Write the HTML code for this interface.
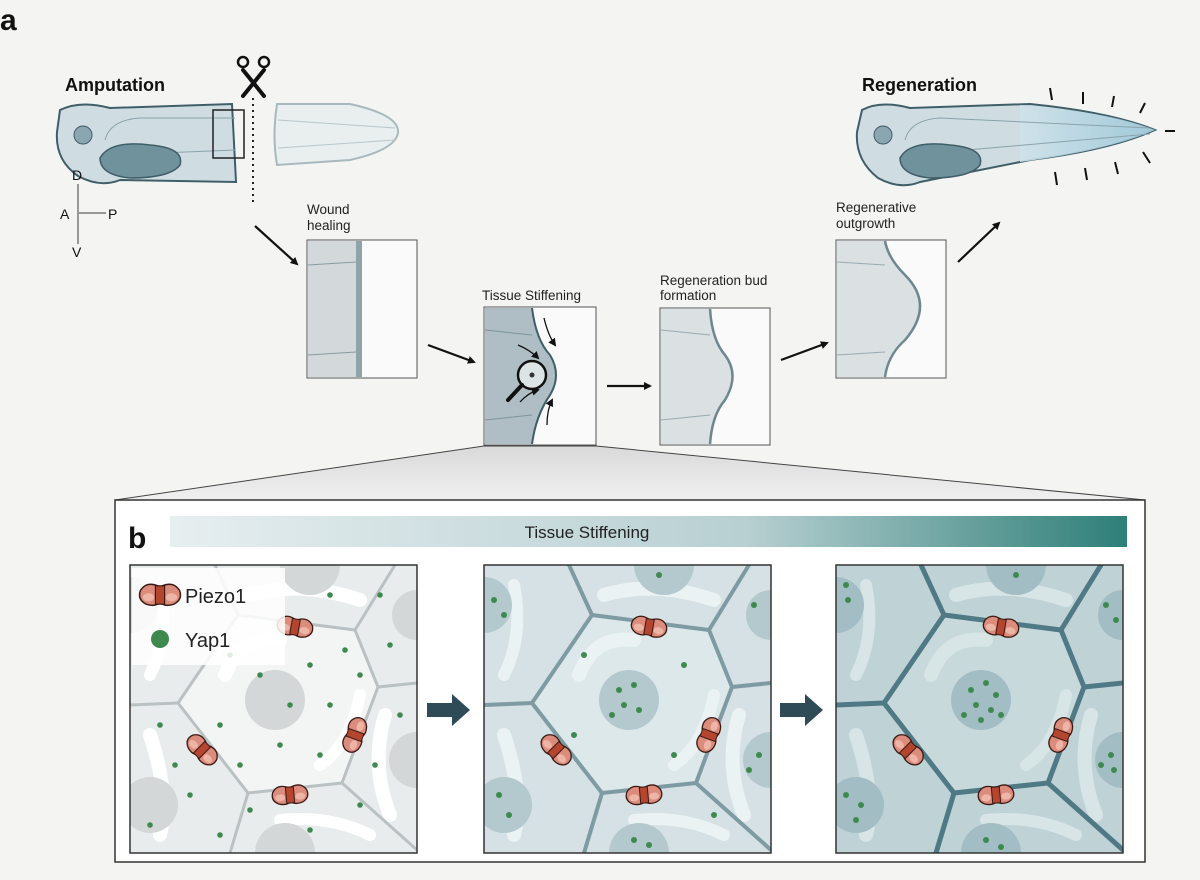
<!DOCTYPE html>
<html><head><meta charset="utf-8"><style>
body{margin:0;background:#f4f4f3;}
svg{display:block;font-family:"Liberation Sans",sans-serif;}
</style></head><body>
<svg width="1200" height="880" viewBox="0 0 1200 880" xmlns="http://www.w3.org/2000/svg">
<defs>
<clipPath id="pc"><rect x="0" y="0" width="287" height="288"/></clipPath>
<marker id="ah" markerWidth="8" markerHeight="8" refX="6" refY="4" orient="auto" markerUnits="userSpaceOnUse" viewBox="0 0 8 8"><path d="M0,0 L8,4 L0,8 z" fill="#111"/></marker>
<linearGradient id="bar" x1="0" x2="1"><stop offset="0" stop-color="#e6eef0"/><stop offset="0.6" stop-color="#b8d0d2"/><stop offset="1" stop-color="#2e7f78"/></linearGradient>
<linearGradient id="trap" x1="0" y1="0" x2="0" y2="1"><stop offset="0" stop-color="#d9d9d9"/><stop offset="1" stop-color="#f0f0f0"/></linearGradient>
<linearGradient id="reg" x1="0" x2="1"><stop offset="0" stop-color="#cfe2ea"/><stop offset="1" stop-color="#9cc7d8"/></linearGradient>
<g id="piezo">
<path d="M-2,-8 Q-12,-12 -17,-4 Q-20,4 -12,8 Q-6,10 -2,8 Z" fill="#dc8c7c" stroke="#3a1a14" stroke-width="1.3"/>
<path d="M2,-8 Q12,-12 17,-4 Q20,4 12,8 Q6,10 2,8 Z" fill="#dc8c7c" stroke="#3a1a14" stroke-width="1.3"/>
<rect x="-4" y="-8" width="8" height="16" fill="#b4452f" stroke="#3a1a14" stroke-width="1"/>
<ellipse cx="-10" cy="2" rx="5" ry="3.5" fill="#eeb5a6"/><ellipse cx="10" cy="2" rx="5" ry="3.5" fill="#eeb5a6"/>
</g>
<g id="cells">
<rect x="0" y="0" width="287" height="288" fill="var(--bg)"/>
<path d="M108,50 L225,65 L248,122 L212,218 L118,228 L48,138 Z" fill="var(--in)"/>
<path d="M95,110 Q110,70 150,75" stroke="var(--hi)" stroke-width="14" fill="none" stroke-linecap="round"/>
<path d="M230,130 Q220,180 190,200" stroke="var(--hi)" stroke-width="12" fill="none" stroke-linecap="round"/>
<path d="M120,30 Q170,15 230,35" stroke="var(--hi)" stroke-width="14" fill="none" stroke-linecap="round"/>
<path d="M20,170 Q40,230 30,270" stroke="var(--hi)" stroke-width="14" fill="none" stroke-linecap="round"/>
<path d="M255,150 Q240,200 260,250" stroke="var(--hi)" stroke-width="14" fill="none" stroke-linecap="round"/>
<path d="M150,255 Q200,250 240,270" stroke="var(--hi)" stroke-width="12" fill="none" stroke-linecap="round"/>
<path d="M30,20 Q40,70 20,110" stroke="var(--hi)" stroke-width="12" fill="none" stroke-linecap="round"/>
<g fill="none" stroke="var(--ln)" stroke-linejoin="round" stroke-linecap="round">
<path d="M108,50 L225,65 L248,122 L212,218 L118,228 L48,138 Z" stroke-width="var(--w)"/>
<path d="M108,50 L85,0 M225,65 L265,0 M248,122 L287,118 M212,218 L287,285 M118,228 L100,288 M48,138 L0,140" stroke-width="var(--w)"/>
</g>
<circle cx="145" cy="135" r="30" fill="var(--nu)"/>
<circle cx="20" cy="240" r="28" fill="var(--nu)"/>
<circle cx="287" cy="195" r="28" fill="var(--nu)"/>
<circle cx="155" cy="288" r="30" fill="var(--nu)"/>
<circle cx="180" cy="0" r="30" fill="var(--nu)"/>
<circle cx="0" cy="40" r="28" fill="var(--nu)"/>
<circle cx="287" cy="50" r="25" fill="var(--nu)"/>
</g>
<g id="pz4">
<use href="#piezo" transform="translate(165,62) rotate(10)"/>
<use href="#piezo" transform="translate(225,170) rotate(-70)"/>
<use href="#piezo" transform="translate(160,230) rotate(-5)"/>
<use href="#piezo" transform="translate(72,185) rotate(45)"/>
</g>
</defs>
<text x="0" y="30" font-size="30" font-weight="bold" fill="#111">a</text>
<text x="65" y="91" font-size="18" font-weight="bold" fill="#111">Amputation</text>
<text x="862" y="91" font-size="18" font-weight="bold" fill="#111">Regeneration</text>
<!-- left tadpole -->
<path d="M60,110 Q80,100 110,108 L232,104 L236,182 L120,180 Q100,188 78,176 Q55,160 57,132 Z" fill="#cfdde2" stroke="#3f5e68" stroke-width="2"/>
<path d="M105,140 Q110,120 140,118 L235,118 M110,155 L235,150" stroke="#8aa3ab" fill="none"/>
<path d="M100,158 Q110,140 150,145 Q185,148 180,165 Q170,178 130,178 Q100,175 100,158 Z" fill="#6f929c" stroke="#3f5e68" stroke-width="1.5"/>
<circle cx="83" cy="135" r="9" fill="#8aa7b0" stroke="#3f5e68"/>
<rect x="213" y="110" width="31" height="48" fill="none" stroke="#222" stroke-width="1.5"/>
<!-- cut tail -->
<path d="M277,104 L350,104 Q400,115 398,133 Q395,150 350,160 L277,165 Q272,135 277,104 Z" fill="#e9eeef" stroke="#a8b8bc" stroke-width="2"/>
<path d="M278,120 L395,128 M278,148 L395,140" stroke="#b9c6c9" fill="none"/>
<!-- scissors -->
<g stroke="#111" stroke-width="4" stroke-linecap="round"><line x1="243" y1="70" x2="264" y2="96"/><line x1="264" y1="70" x2="243" y2="96"/></g>
<circle cx="243" cy="62" r="5" fill="none" stroke="#111" stroke-width="2.5"/><circle cx="264" cy="62" r="5" fill="none" stroke="#111" stroke-width="2.5"/>
<line x1="253" y1="98" x2="253" y2="202" stroke="#222" stroke-width="2" stroke-dasharray="2,4"/>
<!-- compass -->
<g stroke="#999" stroke-width="2"><line x1="78" y1="184" x2="78" y2="244"/><line x1="78" y1="213" x2="106" y2="213"/></g>
<text x="72" y="180" font-size="14" fill="#111">D</text><text x="60" y="219" font-size="14" fill="#111">A</text>
<text x="108" y="219" font-size="14" fill="#111">P</text><text x="72" y="257" font-size="14" fill="#111">V</text>
<!-- arrows -->
<g stroke="#111" stroke-width="2.2" marker-end="url(#ah)">
<line x1="255" y1="226" x2="297" y2="264"/><line x1="428" y1="345" x2="474" y2="362"/>
<line x1="607" y1="386" x2="650" y2="386"/><line x1="781" y1="360" x2="827" y2="343"/>
<line x1="958" y1="262" x2="999" y2="223"/>
</g>
<!-- labels -->
<g font-size="13.5" fill="#222">
<text x="307" y="214">Wound</text><text x="307" y="230">healing</text>
<text x="482" y="300">Tissue Stiffening</text>
<text x="660" y="285">Regeneration bud</text><text x="660" y="300">formation</text>
<text x="836" y="212">Regenerative</text><text x="836" y="228">outgrowth</text>
</g>
<!-- boxes -->
<g>
<rect x="307" y="240" width="110" height="138" fill="#fafafa" stroke="#555"/>
<rect x="308" y="241" width="48" height="136" fill="#d3d9db"/>
<path d="M356,241 L362,241 L362,377 L356,377 Z" fill="#8fa3aa"/>
<path d="M308,265 L356,262 M308,355 L356,352" stroke="#8a9ba1"/>

<rect x="484" y="307" width="112" height="138" fill="#fafafa" stroke="#555"/>
<path d="M485,308 L532,308 Q536,340 550,355 Q562,375 550,395 Q536,415 532,444 L485,444 Z" fill="#aebec4"/>
<path d="M485,330 L532,335 M485,420 L532,415" stroke="#7f959c"/>
<path d="M532,308 Q536,340 550,355 Q562,375 550,395 Q536,415 532,444" fill="none" stroke="#3f5e68" stroke-width="2"/>
<g stroke="#111" stroke-width="1.3" fill="none" marker-end="url(#ah)">
<path d="M544,318 Q548,335 555,345"/><path d="M518,345 Q530,350 538,358"/><path d="M520,402 Q528,393 538,390"/><path d="M547,425 Q547,410 552,400"/>
</g>
<circle cx="532" cy="375" r="14" fill="#dde4e6" stroke="#111" stroke-width="2.5"/>
<circle cx="532" cy="375" r="2.5" fill="#333"/>
<line x1="522" y1="385" x2="508" y2="400" stroke="#111" stroke-width="4" stroke-linecap="round"/>

<rect x="660" y="308" width="110" height="137" fill="#fafafa" stroke="#555"/>
<path d="M661,309 L710,309 Q712,340 725,355 Q740,375 725,400 Q712,415 710,444 L661,444 Z" fill="#dbe0e2"/>
<path d="M661,330 L710,335 M661,420 L710,415" stroke="#9aaab0"/>
<path d="M710,309 Q712,340 725,355 Q740,375 725,400 Q712,415 710,444" fill="none" stroke="#6f8790" stroke-width="2.5"/>

<rect x="836" y="240" width="110" height="138" fill="#fafafa" stroke="#555"/>
<path d="M837,241 L885,241 Q888,258 905,275 Q935,305 905,340 Q888,355 885,377 L837,377 Z" fill="#dbe0e2"/>
<path d="M837,262 L885,265 M837,355 L885,352" stroke="#9aaab0"/>
<path d="M885,241 Q888,258 905,275 Q935,305 905,340 Q888,355 885,377" fill="none" stroke="#6f8790" stroke-width="2.5"/>
</g>
<!-- right tadpole -->
<path d="M862,110 Q880,100 910,108 L1030,104 Q1110,112 1155,130 Q1110,150 1030,160 L920,182 Q900,190 878,178 Q855,160 857,132 Z" fill="#cfdde2" stroke="#3f5e68" stroke-width="2"/>
<path d="M1020,105 Q1110,112 1155,130 Q1110,150 1020,162 Z" fill="url(#reg)" opacity="0.9"/>
<path d="M905,140 Q910,120 940,118 L1150,128 M910,155 L1150,134" stroke="#8aa3ab" fill="none"/>
<path d="M900,158 Q910,140 950,145 Q985,148 980,165 Q970,178 930,178 Q900,175 900,158 Z" fill="#6f929c" stroke="#3f5e68" stroke-width="1.5"/>
<circle cx="883" cy="135" r="9" fill="#8aa7b0" stroke="#3f5e68"/>
<g stroke="#111" stroke-width="2">
<line x1="1050" y1="88" x2="1052" y2="100"/><line x1="1083" y1="92" x2="1083" y2="104"/><line x1="1114" y1="96" x2="1112" y2="107"/><line x1="1145" y1="103" x2="1140" y2="113"/>
<line x1="1165" y1="131" x2="1175" y2="131"/>
<line x1="1055" y1="172" x2="1057" y2="185"/><line x1="1085" y1="168" x2="1087" y2="180"/><line x1="1115" y1="162" x2="1118" y2="174"/><line x1="1143" y1="152" x2="1150" y2="163"/>
</g>
<!-- trapezoid -->
<path d="M484,446 L596,446 L1145,500 L115,500 Z" fill="url(#trap)" stroke="#444" stroke-width="1"/>
<!-- panel b -->
<rect x="115" y="500" width="1030" height="362" fill="#fff" stroke="#333" stroke-width="1.5"/>
<text x="128" y="548" font-size="30" font-weight="bold" fill="#111">b</text>
<rect x="170" y="516" width="957" height="31" fill="url(#bar)"/>
<text x="587" y="538" font-size="17" fill="#222" text-anchor="middle">Tissue Stiffening</text>

<g transform="translate(130,565)" style="--bg:#e9ecec;--ln:#b9c1c3;--in:#f3f4f4;--hi:#ffffff;--nu:#d3d7d8;--w:3">
<use href="#cells" clip-path="url(#pc)"/>
<use href="#pz4"/>
<g fill="#3e8a4e"><circle cx="100" cy="90" r="2.8"/><circle cx="130" cy="110" r="2.8"/><circle cx="180" cy="100" r="2.8"/><circle cx="200" cy="140" r="2.8"/><circle cx="90" cy="160" r="2.8"/><circle cx="150" cy="180" r="2.8"/><circle cx="190" cy="190" r="2.8"/><circle cx="110" cy="200" r="2.8"/><circle cx="30" cy="160" r="2.8"/><circle cx="60" cy="230" r="2.8"/><circle cx="230" cy="240" r="2.8"/><circle cx="260" cy="80" r="2.8"/><circle cx="250" cy="30" r="2.8"/><circle cx="200" cy="30" r="2.8"/><circle cx="20" cy="260" r="2.8"/><circle cx="270" cy="150" r="2.8"/><circle cx="90" cy="270" r="2.8"/><circle cx="180" cy="265" r="2.8"/><circle cx="160" cy="140" r="2.8"/><circle cx="215" cy="85" r="2.8"/><circle cx="230" cy="110" r="2.8"/><circle cx="120" cy="245" r="2.8"/><circle cx="45" cy="200" r="2.8"/><circle cx="245" cy="200" r="2.8"/></g>
<rect x="2" y="3" width="153" height="97" fill="#fff" opacity="0.85"/>
<use href="#piezo" transform="translate(30,30) scale(1.15)"/>
<circle cx="30" cy="74" r="9" fill="#3e8a4e"/>
<text x="55" y="38" font-size="20" fill="#222">Piezo1</text>
<text x="55" y="82" font-size="20" fill="#222">Yap1</text>
<rect x="0" y="0" width="287" height="288" fill="none" stroke="#333" stroke-width="1.5"/>
</g>
<g transform="translate(484,565)" style="--bg:#d5e1e4;--ln:#7e9ba3;--in:#dde8ea;--hi:#ebf2f3;--nu:#b3c9ce;--w:4">
<use href="#cells" clip-path="url(#pc)"/>
<use href="#pz4"/>
<g fill="#3e8a4e"><circle cx="135" cy="125" r="3"/><circle cx="150" cy="120" r="3"/><circle cx="140" cy="140" r="3"/><circle cx="155" cy="145" r="3"/><circle cx="128" cy="150" r="3"/><circle cx="100" cy="90" r="3"/><circle cx="200" cy="100" r="3"/><circle cx="190" cy="190" r="3"/><circle cx="90" cy="170" r="3"/><circle cx="15" cy="230" r="3"/><circle cx="25" cy="250" r="3"/><circle cx="275" cy="190" r="3"/><circle cx="265" cy="205" r="3"/><circle cx="150" cy="275" r="3"/><circle cx="165" cy="280" r="3"/><circle cx="10" cy="35" r="3"/><circle cx="20" cy="50" r="3"/><circle cx="270" cy="40" r="3"/><circle cx="175" cy="10" r="3"/><circle cx="230" cy="250" r="3"/></g>
<rect x="0" y="0" width="287" height="288" fill="none" stroke="#333" stroke-width="1.5"/>
</g>
<g transform="translate(836,565)" style="--bg:#bfd2d6;--ln:#4f7a85;--in:#c8d9dc;--hi:#d8e5e7;--nu:#a2bdc3;--w:5">
<use href="#cells" clip-path="url(#pc)"/>
<use href="#pz4"/>
<g fill="#3e8a4e"><circle cx="135" cy="125" r="3"/><circle cx="150" cy="118" r="3"/><circle cx="140" cy="140" r="3"/><circle cx="155" cy="145" r="3"/><circle cx="128" cy="150" r="3"/><circle cx="160" cy="130" r="3"/><circle cx="145" cy="155" r="3"/><circle cx="165" cy="150" r="3"/><circle cx="10" cy="230" r="3"/><circle cx="25" cy="240" r="3"/><circle cx="20" cy="255" r="3"/><circle cx="275" cy="190" r="3"/><circle cx="265" cy="200" r="3"/><circle cx="278" cy="205" r="3"/><circle cx="150" cy="275" r="3"/><circle cx="165" cy="282" r="3"/><circle cx="10" cy="20" r="3"/><circle cx="12" cy="35" r="3"/><circle cx="270" cy="40" r="3"/><circle cx="280" cy="55" r="3"/><circle cx="180" cy="10" r="3"/></g>
<rect x="0" y="0" width="287" height="288" fill="none" stroke="#333" stroke-width="1.5"/>
</g>
<path d="M427,703 L452,703 L452,694 L470,710 L452,726 L452,717 L427,717 Z" fill="#2f4b58"/>
<path d="M780,703 L805,703 L805,694 L823,710 L805,726 L805,717 L780,717 Z" fill="#2f4b58"/>
</svg>
</body></html>
